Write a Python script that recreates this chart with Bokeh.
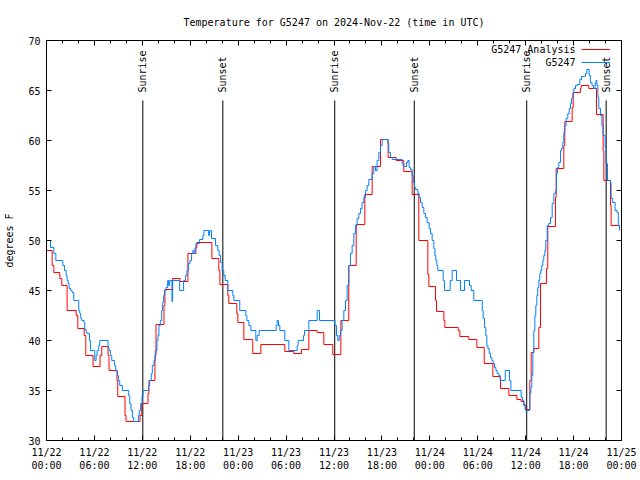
import math
from bokeh.plotting import figure
from bokeh.models import FixedTicker, LinearAxis, Range1d
from bokeh.embed import file_html
from bokeh.resources import INLINE
from bokeh.core.properties import value

FONT = "DejaVu Sans Mono"
FS = "10px"

# Hours since 2024-11-22 00:00 UTC and temperatures (deg F); step data
analysis_hours = [0.0, 0.71, 0.92, 1.67, 1.92, 2.58, 3.71, 3.92, 4.71, 4.92, 5.83, 6.71, 6.92, 7.71, 7.83,
                  8.83, 8.92, 9.83, 9.96, 11.71, 11.92, 12.71, 12.83, 13.58, 13.71, 14.71, 14.83, 15.79,
                  16.71, 17.71, 18.71, 18.83, 20.71, 21.58, 21.71, 22.71, 22.83, 23.83, 23.96, 24.71,
                  25.83, 26.84, 29.84, 30.97, 31.93, 32.85, 33.89, 34.73, 35.85, 36.86, 37.85, 38.78,
                  39.86, 40.78, 41.82, 42.78, 43.78, 44.74, 45.79, 46.62, 47.75, 47.88, 48.71, 48.84,
                  49.76, 49.88, 51.55, 51.76, 52.89, 53.89, 54.81, 55.89, 56.85, 57.9, 58.9, 59.44,
                  59.77, 59.94, 60.52, 60.69, 61.02, 61.65, 61.86, 62.6, 62.77, 63.73, 63.82, 64.78,
                  64.9, 65.82, 65.95, 66.86, 66.95, 67.91, 68.87, 69.7, 69.79, 70.62, 70.7, 71.75]
analysis_temps = [49.0, 47.5, 46.8, 46.2, 45.5, 43.0, 42.5, 41.2, 40.5, 38.5, 37.4, 38.5, 39.4, 38.5, 37.0,
                  36.0, 34.4, 32.5, 31.9, 32.5, 33.7, 34.7, 36.0, 38.5, 41.6, 43.5, 45.1, 46.2,
                  45.9, 48.7, 49.3, 49.8, 48.2, 47.0, 45.6, 44.5, 43.7, 42.7, 41.8, 40.1,
                  38.7, 39.6, 38.9, 38.7, 39.1, 41.0, 40.8, 39.6, 38.6, 42.0, 47.5, 51.6,
                  54.6, 57.4, 60.1, 58.3, 58.0, 56.9, 54.6, 50.0, 46.6, 45.4, 44.0, 42.9,
                  42.0, 41.3, 41.0, 40.4, 40.1, 39.3, 37.7, 36.4, 35.2, 34.5, 34.1, 33.9,
                  33.6, 33.1, 36.0, 38.8, 39.2, 41.3, 45.7, 47.2, 51.4, 54.3, 57.2, 59.5,
                  61.9, 63.3, 64.8, 65.2, 65.5, 65.2, 62.6, 59.0, 56.0, 53.5, 51.5, 51.5]

obs_hours = [0.0, 0.5, 0.92, 1.17, 2.04, 2.25, 2.46, 2.58, 2.71, 2.83, 3.04, 3.21, 3.42, 4.04, 4.17, 4.29,
             4.42, 4.71, 4.79, 4.96, 5.12, 5.38, 5.5, 6.04, 6.21, 6.33, 6.54, 6.67, 7.71, 7.83, 8.0, 8.17,
             8.5, 8.67, 8.88, 9.0, 9.17, 9.5, 10.29, 10.42, 10.58, 10.75, 10.92, 11.5, 11.62, 11.79,
             11.96, 12.08, 12.79, 12.92, 13.12, 13.25, 13.46, 13.62, 13.83, 13.96, 14.08, 14.25, 14.42,
             14.54, 14.67, 14.79, 14.96, 15.17, 15.29, 15.42, 15.71, 15.79, 16.67, 17.17, 17.42, 17.58,
             17.79, 17.96, 18.17, 18.33, 18.46, 18.58, 18.71, 19.17, 19.58, 19.71, 20.3, 20.42, 20.66,
             21.16, 21.45, 21.62, 21.8, 21.99, 22.2, 22.37, 22.71, 23.33, 23.46, 24.2, 24.96, 25.09,
             25.34, 25.59, 26.21, 26.38, 26.63, 28.76, 28.88, 29.05, 29.22, 29.84, 30.34, 31.39, 31.51,
             32.18, 32.31, 32.85, 33.89, 34.19, 36.11, 36.31, 36.48, 36.65, 36.81, 37.02, 37.23, 37.44,
             37.65, 37.86, 38.06, 38.27, 38.48, 38.69, 38.9, 39.11, 39.32, 39.52, 39.73, 39.94, 40.15,
             40.36, 40.78, 40.99, 41.2, 41.4, 41.61, 41.82, 42.03, 42.74, 42.86, 43.07, 43.28, 44.53,
             44.66, 45.08, 45.24, 45.41, 45.58, 45.79, 45.91, 46.08, 46.24, 46.5, 46.66, 46.83, 47.04,
             47.25, 47.45, 47.66, 47.91, 48.08, 48.29, 48.5, 48.63, 48.75, 48.88, 49.0, 49.67, 49.84,
             50.55, 50.8, 51.34, 51.84, 52.34, 52.97, 53.18, 53.51, 54.56, 54.68, 54.85, 55.01, 55.14,
             55.27, 55.43, 55.6, 55.77, 55.93, 56.1, 56.27, 56.43, 56.64, 56.81, 57.44, 57.98, 58.15,
             59.44, 59.61, 59.77, 59.98, 60.52, 60.65, 60.77, 60.9, 61.02, 61.15, 61.27, 61.4, 61.52,
             61.65, 61.77, 61.9, 62.02, 62.15, 62.27, 62.4, 62.52, 62.7, 62.9, 63.11, 63.32, 63.53,
             63.75, 63.86, 63.98, 64.15, 64.36, 64.49, 64.65, 64.78, 64.9, 65.07, 65.28, 65.45, 65.61,
             65.74, 65.9, 66.03, 66.24, 66.45, 66.78, 66.99, 67.37, 67.49, 67.66, 67.95, 68.1, 68.3,
             68.5, 68.7, 68.8, 68.92, 69.04, 69.16, 69.37, 69.55, 69.7, 69.95, 70.05, 70.25, 70.6,
             70.7, 70.9, 71.2, 71.45, 71.6, 71.75]
obs_temps = [50.0, 49.3, 48.7, 48.0, 47.5, 47.0, 46.5, 46.0, 45.7, 45.2, 45.0, 44.8, 44.0, 43.0, 42.7, 42.2,
             42.0, 41.8, 41.1, 40.8, 40.7, 40.0, 39.0, 38.0, 38.5, 39.0, 39.5, 40.0, 39.3, 39.0, 38.5, 38.0,
             37.5, 37.0, 36.5, 36.0, 35.5, 35.0, 34.5, 33.7, 33.0, 32.3, 31.9, 32.5, 33.0, 33.7,
             34.5, 35.0, 35.5, 36.0, 36.7, 37.5, 38.0, 39.0, 40.0, 40.5, 41.5, 42.0, 43.0,
             43.8, 44.5, 45.0, 45.3, 46.0, 45.5, 46.0, 43.9, 46.0, 45.0, 46.0, 46.5, 47.0,
             47.7, 48.0, 48.7, 49.0, 48.7, 49.2, 49.7, 50.1, 50.5, 51.0, 50.5, 51.0, 50.2,
             49.5, 49.0, 48.5, 47.8, 47.0, 46.5, 46.0, 45.0, 44.5, 44.0, 43.0, 42.5, 42.0,
             41.5, 41.0, 40.0, 40.5, 41.0, 41.5, 42.0, 41.5, 41.0, 40.0, 39.0, 39.5, 40.0,
             40.5, 41.0, 42.0, 43.0, 42.0, 41.5, 40.5, 40.0, 40.5, 41.0, 42.0, 43.0, 44.0,
             45.5, 47.5, 48.7, 49.5, 50.7, 51.5, 52.2, 52.7, 53.2, 53.8, 54.3, 55.0, 55.5,
             56.1, 56.7, 57.4, 57.0, 58.0, 58.8, 59.5, 60.1, 59.7, 58.8, 58.3, 58.1, 57.7,
             57.4, 57.8, 58.0, 57.3, 57.1, 56.5, 55.8, 55.3, 55.1, 54.7, 54.3, 53.8, 53.3,
             52.7, 52.3, 51.8, 51.2, 50.7, 50.0, 49.2, 48.5, 48.0, 47.5, 47.0, 46.0, 45.0,
             46.0, 47.0, 46.0, 45.0, 46.0, 45.5, 45.0, 44.0, 43.0, 42.2, 41.3, 40.5, 39.5,
             39.2, 38.7, 38.3, 38.0, 37.7, 37.3, 37.0, 36.7, 36.5, 36.0, 37.0, 36.0, 35.0,
             34.3, 34.0, 33.5, 33.0, 34.7, 35.3, 36.5, 38.8, 41.0, 42.5, 43.5, 44.5, 45.3,
             46.0, 46.7, 47.0, 47.5, 48.0, 48.5, 49.0, 50.0, 51.5, 51.7, 52.3, 53.7, 54.7,
             55.0, 56.7, 57.3, 57.8, 59.0, 59.2, 59.8, 60.8, 61.5, 62.2, 62.7, 63.2, 63.7,
             64.2, 64.7, 65.2, 65.5, 65.6, 66.1, 66.4, 66.4, 66.7, 67.1, 66.5, 65.8, 65.5,
             65.2, 65.7, 66.0, 65.5, 64.3, 63.2, 62.5, 61.5, 60.5, 59.3, 57.7, 56.0, 55.8,
             54.2, 53.8, 53.0, 52.8, 51.5, 51.0]

sun_hours = [12.06, 22.08, 36.09, 46.05, 60.13, 70.08]
sun_labels = ["Sunrise", "Sunset", "Sunrise", "Sunset", "Sunrise", "Sunset"]

x_ticks = [0, 6, 12, 18, 24, 30, 36, 42, 48, 54, 60, 66, 72]
x_tick_labels = ["11/22\n00:00", "11/22\n06:00", "11/22\n12:00", "11/22\n18:00",
                 "11/23\n00:00", "11/23\n06:00", "11/23\n12:00", "11/23\n18:00",
                 "11/24\n00:00", "11/24\n06:00", "11/24\n12:00", "11/24\n18:00",
                 "11/25\n00:00"]
x_minor = list(range(0, 73, 2))
y_ticks = [30, 35, 40, 45, 50, 55, 60, 65, 70]

series_names = ["G5247 Analysis", "G5247"]
series_colors = ["#ff0000", "#0080ff"]

p = figure(frame_width=575, frame_height=400,
           x_range=Range1d(0, 72), y_range=Range1d(30, 70),
           output_backend="svg", toolbar_location=None,
           min_border_left=46, min_border_right=19, min_border_top=40, min_border_bottom=40,
           title="Temperature for G5247 on 2024-Nov-22 (time in UTC)")
p.grid.visible = False
p.outline_line_color = "black"
p.background_fill_color = "white"
p.border_fill_color = "white"

p.title.align = "center"
p.title.vertical_align = "top"
p.title.text_font = FONT
p.title.text_font_size = FS
p.title.text_font_style = "normal"
p.title.text_color = "black"
p.title.standoff = 22

xt = FixedTicker(ticks=x_ticks, minor_ticks=x_minor)
yt = FixedTicker(ticks=y_ticks, minor_ticks=[])

def style_axis(ax):
    ax.axis_line_color = "black"
    ax.major_tick_in = 5
    ax.major_tick_out = 0
    ax.minor_tick_in = 3
    ax.minor_tick_out = 0
    ax.major_tick_line_color = "black"
    ax.minor_tick_line_color = "black"
    ax.major_label_text_font = FONT
    ax.major_label_text_font_size = FS
    ax.major_label_text_color = "black"
    ax.axis_label_text_font = FONT
    ax.axis_label_text_font_size = FS
    ax.axis_label_text_font_style = "normal"
    ax.axis_label_text_color = "black"

xa = p.xaxis[0]
xa.ticker = xt
xa.major_label_overrides = {t: lab for t, lab in zip(x_ticks, x_tick_labels)}
style_axis(xa)
xa.major_label_standoff = 6

ya = p.yaxis[0]
ya.ticker = yt
style_axis(ya)
ya.major_label_standoff = 6
ya.axis_label = "degrees F"
ya.axis_label_standoff = 10

top = LinearAxis(ticker=xt)
style_axis(top)
top.major_label_overrides = {t: "" for t in x_ticks}
top.major_label_standoff = 0
p.add_layout(top, "above")

right = LinearAxis(ticker=yt)
style_axis(right)
right.major_label_overrides = {t: "" for t in y_ticks}
right.major_label_standoff = 0
p.add_layout(right, "right")

# sunrise / sunset markers
p.segment(x0=sun_hours, y0=[30] * len(sun_hours), x1=sun_hours, y1=[64.0] * len(sun_hours),
          line_color="black", line_width=1)
p.text(x=sun_hours, y=[64.8] * len(sun_hours), text=sun_labels, angle=math.pi / 2,
       text_align="left", text_baseline="middle", text_font=value(FONT),
       text_font_size=FS, text_color="black")

# data
p.step(analysis_hours, analysis_temps, mode="after", line_color=series_colors[0], line_width=1)
p.step(obs_hours, obs_temps, mode="after", line_color=series_colors[1], line_width=1)

# key (gnuplot style: text right-aligned, sample to the right)
key_text_x = 66.24
key_y = [69.1, 67.8]
p.text(x=[key_text_x] * 2, y=key_y, text=series_names, text_align="right", text_baseline="middle",
       text_font=value(FONT), text_font_size=FS, text_color="black")
p.segment(x0=[67.0] * 2, y0=key_y, x1=[70.54] * 2, y1=key_y, line_color=series_colors, line_width=1)

open("out.html", "w").write(file_html(p, INLINE))
